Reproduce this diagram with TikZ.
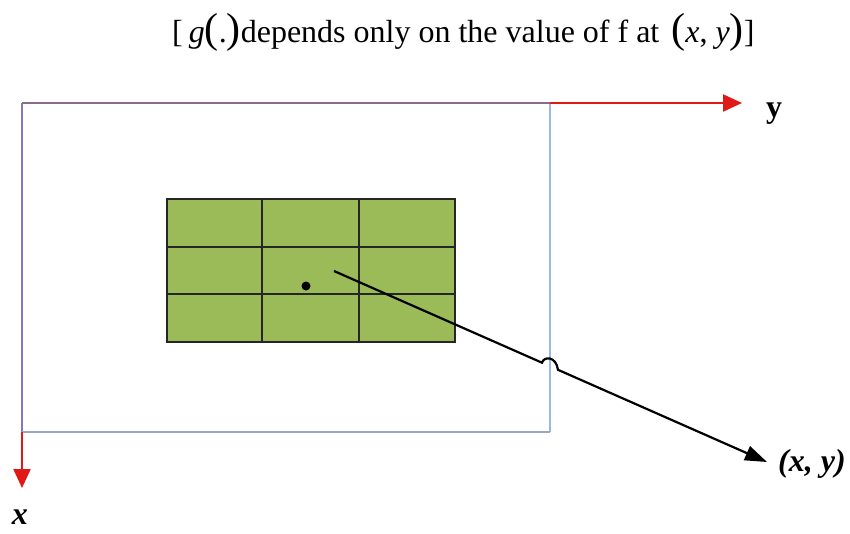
\documentclass[tikz,border=0pt]{standalone}
\usepackage{fontspec}
\setmainfont{Liberation Serif}
\usetikzlibrary{arrows.meta}
\definecolor{gridgreen}{HTML}{9BBB59}
\definecolor{topc}{HTML}{8C6A8C}
\definecolor{leftc}{HTML}{8878C0}
\definecolor{rightc}{HTML}{9DB4E6}
\definecolor{botc}{HTML}{98A8C0}
\definecolor{axisred}{HTML}{E01818}
\newcommand{\bigpar}[1]{{\fontsize{42}{42}\selectfont #1}}
\tikzset{
  frame/.style={line width=2pt},
  axisarrow/.style={draw=axisred, line width=2.2pt, -{Triangle[length=19pt,width=17pt]}},
  gridline/.style={draw=black!85, line width=1.8pt},
  pointer/.style={line width=2.2pt, -{Triangle[length=22pt,width=15pt]}},
  lab/.style={inner sep=0pt, font=\bfseries\itshape\fontsize{32}{32}\selectfont},
}
\begin{document}
\begin{tikzpicture}[x=1pt,y=-1pt]
\useasboundingbox[fill=white] (0,0) rectangle (850,533);
% title
\node[anchor=base west, inner sep=0pt, font=\fontsize{32}{32}\selectfont] (title) at (172,42)
  {[\hspace{6pt}\textit{g}\bigpar{(}.\bigpar{)}depends only on the value of f at \hspace{4pt}\bigpar{(}\textit{x}, \textit{y}\bigpar{)}]};
% frame corners
\coordinate (tl) at (22,103);
\coordinate (tr) at (550,103);
\coordinate (bl) at (22,432);
\coordinate (br) at (550,432);
\coordinate (ytip) at (742,103);
\coordinate (xtip) at (22,488);
\draw[frame, leftc] (tl) -- (bl);
\draw[frame, rightc] (tr) -- (br);
\draw[frame, botc] (bl) -- (br);
\draw[frame, topc] (tl) -- (tr);
\draw[axisarrow] (tr) -- (ytip);
\draw[axisarrow] (bl) -- (xtip);
\node[lab, font=\bfseries\fontsize{32}{32}\selectfont, anchor=base west] (ylab) at (766,117) {y};
\node[lab, anchor=base] (xlab) at (20,524) {x};
% grid
\coordinate (g1) at (167,199);
\coordinate (g2) at (455,342);
\fill[gridgreen] (g1) rectangle (g2);
\foreach \xx in {262,359} \draw[gridline] (\xx,199) -- (\xx,342);
\foreach \yy in {247,294} \draw[gridline] (167,\yy) -- (455,\yy);
\draw[gridline] (g1) rectangle (g2);
% point
\node[circle, fill=black, inner sep=0pt, minimum size=9pt] (pt) at (306,286) {};
% pointer with hop
\coordinate (ps) at (334,271);
\coordinate (h1) at (542,362.7);
\coordinate (h2) at (558,369.8);
\coordinate (pe) at (767,462);
\node[lab, anchor=base west] (xylab) at (778,471) {(x, y)};
\draw[pointer] (ps) -- (h1) .. controls (544,356) and (556,356) .. (h2) -- (pe);
\end{tikzpicture}
\end{document}
